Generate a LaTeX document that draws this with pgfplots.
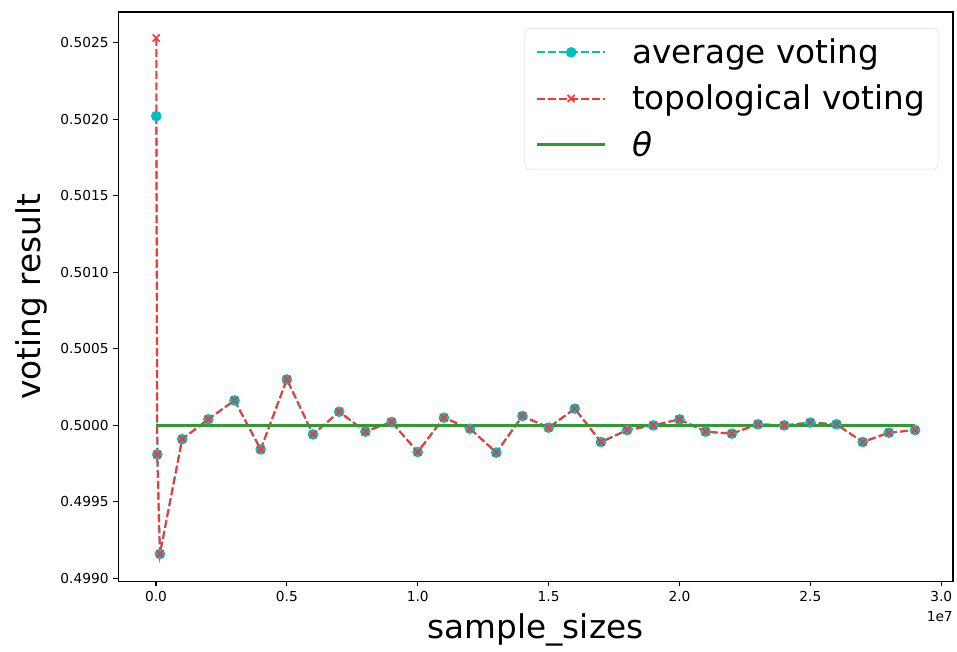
\documentclass[border=0pt]{standalone}
\usepackage{fontspec}
\setmainfont{DejaVu Sans}
\usepackage{pgfplots}
\pgfplotsset{compat=1.18}
\definecolor{mcyan}{rgb}{0,0.75,0.75}
\definecolor{mred}{rgb}{1,0.2,0.2}
\definecolor{mgreen}{rgb}{0.2,0.6,0.2}
\begin{document}
\begin{tikzpicture}
\begin{axis}[
  scale only axis,
  width=626pt, height=427pt,
  xmin=-1.45e6, xmax=3.045e7,
  ymin=0.49898, ymax=0.50270,
  axis line style={line width=0.8pt},
  tick style={black, line width=0.8pt},
  tick align=outside, major tick length=3.6pt,
  tick pos=left,
  xtick={0,5e6,10e6,15e6,20e6,25e6,30e6},
  xticklabels={0.0,0.5,1.0,1.5,2.0,2.5,3.0},
  scaled x ticks=false,
  ytick={0.4990,0.4995,0.5000,0.5005,0.5010,0.5015,0.5020,0.5025},
  yticklabel style={/pgf/number format/.cd, fixed, fixed zerofill, precision=4, assume math mode=true},
  scaled y ticks=false,
  ticklabel style={font=\fontsize{10.3}{12}\selectfont},
  xlabel={sample\_sizes}, ylabel={voting result},
  label style={font=\fontsize{24.5}{29}\selectfont},
  xlabel style={at={(axis description cs:0.5,0)}, anchor=base, yshift=-43pt},
  ylabel style={at={(axis description cs:-0.0927,0.5)}, anchor=base},
  legend style={at={(rel axis cs:1,1)}, anchor=north east, xshift=-11pt, yshift=-12pt,
    draw=black!15, rounded corners=3pt, fill=white,
    font=\fontsize{24.5}{29}\selectfont, inner xsep=8pt, inner ysep=6pt,
    row sep=10.5pt,
    /tikz/every odd column/.append style={column sep=17pt}},
  legend cell align=left,
  legend image code/.code={\draw[mark repeat=2,mark phase=2] plot coordinates {(0cm,0cm) (0.9cm,0cm) (1.8cm,0cm)};},
  clip=false,
]
\addplot[mcyan, dash pattern=on 5.8pt off 2.5pt, line width=1.5pt, mark=*, mark size=3.2pt, mark options={solid, fill=mcyan, draw=mcyan}] coordinates {
(1e4,0.50202) (5e4,0.49981) (1.5e5,0.49916)
(1e6,0.49991) (2e6,0.50004) (3e6,0.500163) (4e6,0.499843) (5e6,0.50030)
(6e6,0.499941) (7e6,0.500089) (8e6,0.499959) (9e6,0.500022) (10e6,0.499826)
(11e6,0.500050) (12e6,0.499978) (13e6,0.499822) (14e6,0.500061) (15e6,0.499985)
(16e6,0.500109) (17e6,0.499891) (18e6,0.499969) (19e6,0.500000) (20e6,0.500039)
(21e6,0.499959) (22e6,0.499946) (23e6,0.500007) (24e6,0.500000) (25e6,0.500018)
(26e6,0.500007) (27e6,0.499891) (28e6,0.499952) (29e6,0.499969)
};
\addlegendentry{average voting}
\addplot[mred, dash pattern=on 5.8pt off 2.5pt, line width=1.5pt, mark=x, mark size=3.8pt, mark options={solid, line width=1.3pt}] coordinates {
(1e4,0.50253) (5e4,0.49981) (1.5e5,0.49916)
(1e6,0.49991) (2e6,0.50004) (3e6,0.500163) (4e6,0.499843) (5e6,0.50030)
(6e6,0.499941) (7e6,0.500089) (8e6,0.499959) (9e6,0.500022) (10e6,0.499826)
(11e6,0.500050) (12e6,0.499978) (13e6,0.499822) (14e6,0.500061) (15e6,0.499985)
(16e6,0.500109) (17e6,0.499891) (18e6,0.499969) (19e6,0.500000) (20e6,0.500039)
(21e6,0.499959) (22e6,0.499946) (23e6,0.500007) (24e6,0.500000) (25e6,0.500018)
(26e6,0.500007) (27e6,0.499891) (28e6,0.499952) (29e6,0.499969)
};
\addlegendentry{topological voting}
\addplot[mgreen, line width=2.2pt, no marks] coordinates {(1e4,0.5) (29e6,0.5)};
\addlegendentry{\textit{θ}}
\node[anchor=north east, font=\fontsize{10.3}{12}\selectfont, inner sep=0pt] at ([yshift=-22pt]rel axis cs:1,0) {1e7};
\end{axis}
\path[use as bounding box] ([shift={(-88.5pt,-50pt)}]current axis.south west) rectangle ([shift={(3pt,9pt)}]current axis.north east);
\end{tikzpicture}
\end{document}
